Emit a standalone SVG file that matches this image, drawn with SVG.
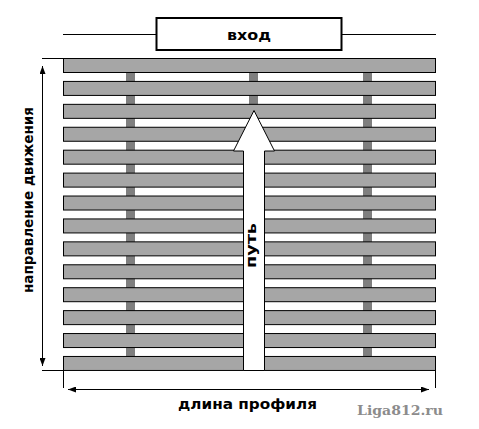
<svg xmlns="http://www.w3.org/2000/svg" width="479" height="429" viewBox="0 0 479 429">
<style>
.slat{fill:#a6a6a6;stroke:#000;stroke-width:1}
.sup{fill:#7f7f7f}
.ln{stroke:#000;stroke-width:1;fill:none}
.lbl{font-family:"DejaVu Sans",Verdana,sans-serif;font-weight:bold;font-size:14.5px;fill:#000}
</style>
<defs>
<marker id="ah" viewBox="0 0 8 6" refX="8" refY="3" markerWidth="8" markerHeight="6" markerUnits="userSpaceOnUse" orient="auto-start-reverse">
<path d="M0,0 L8,3 L0,6 Z" fill="#000"/>
</marker>
</defs>
<rect width="479" height="429" fill="#fff"/>
<g id="entrance">
<line class="ln" x1="63" y1="34.5" x2="156" y2="34.5"/>
<line class="ln" x1="342" y1="34.5" x2="436" y2="34.5"/>
<rect x="156.5" y="18" width="185" height="32" fill="#fff" stroke="#000" stroke-width="2"/>
<text class="lbl" x="249" y="39.5" text-anchor="middle" textLength="44" lengthAdjust="spacingAndGlyphs">вход</text>
</g>
<g id="supports">
<rect class="sup" x="126" y="72" width="9" height="285"/>
<rect class="sup" x="249" y="72" width="9" height="285"/>
<rect class="sup" x="363" y="72" width="9" height="285"/>
</g>
<g id="slats">
<rect class="slat" x="63.5" y="58.5" width="372" height="14"/>
<rect class="slat" x="63.5" y="81.42" width="372" height="14"/>
<rect class="slat" x="63.5" y="104.34" width="372" height="14"/>
<rect class="slat" x="63.5" y="127.26" width="372" height="14"/>
<rect class="slat" x="63.5" y="150.18" width="372" height="14"/>
<rect class="slat" x="63.5" y="173.1" width="372" height="14"/>
<rect class="slat" x="63.5" y="196.02" width="372" height="14"/>
<rect class="slat" x="63.5" y="218.94" width="372" height="14"/>
<rect class="slat" x="63.5" y="241.86" width="372" height="14"/>
<rect class="slat" x="63.5" y="264.78" width="372" height="14"/>
<rect class="slat" x="63.5" y="287.7" width="372" height="14"/>
<rect class="slat" x="63.5" y="310.62" width="372" height="14"/>
<rect class="slat" x="63.5" y="333.54" width="372" height="14"/>
<rect class="slat" x="63.5" y="356.46" width="372" height="14"/>
</g>
<g id="path-arrow">
<polygon points="254,110.5 233.5,151 243.5,151 243.5,370.5 264.5,370.5 264.5,151 274.5,151" fill="#fff" stroke="#000" stroke-width="1"/>
<text class="lbl" transform="translate(256,245.5) rotate(-90)" text-anchor="middle" font-size="13.5" textLength="45" lengthAdjust="spacingAndGlyphs">путь</text>
</g>
<g id="connectors">
<line class="ln" x1="42" y1="58.5" x2="63.5" y2="58.5"/>
<line class="ln" x1="42" y1="370.5" x2="63.5" y2="370.5"/>
<line class="ln" x1="63.5" y1="370.5" x2="63.5" y2="388"/>
<line class="ln" x1="435.5" y1="370.5" x2="435.5" y2="388"/>
<line class="ln" x1="42.5" y1="66" x2="42.5" y2="366" marker-start="url(#ah)" marker-end="url(#ah)"/>
<line class="ln" x1="68" y1="389.5" x2="429" y2="389.5" marker-start="url(#ah)" marker-end="url(#ah)"/>
</g>
<g id="labels">
<text class="lbl" transform="translate(33,200) rotate(-90)" text-anchor="middle" textLength="186" lengthAdjust="spacingAndGlyphs">направление движения</text>
<text class="lbl" x="247.5" y="408.5" text-anchor="middle" textLength="139" lengthAdjust="spacingAndGlyphs">длина профиля</text>
<text x="400" y="415" text-anchor="middle" font-family="'DejaVu Serif',serif" font-weight="bold" font-size="13" fill="#8c8c8c" textLength="86" lengthAdjust="spacingAndGlyphs">Liga812.ru</text>
</g>
</svg>
